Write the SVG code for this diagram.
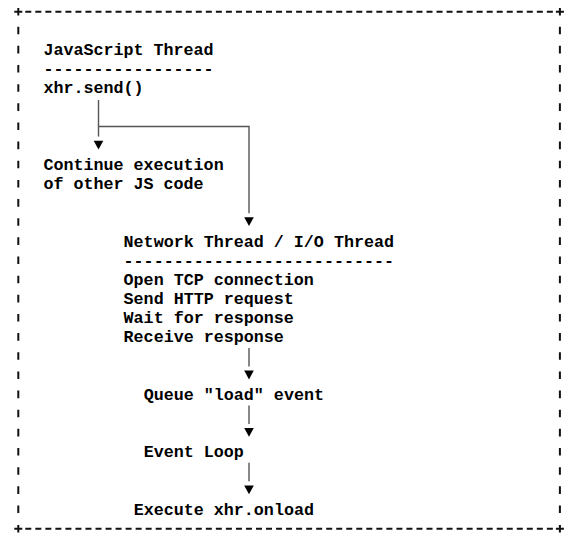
<svg xmlns="http://www.w3.org/2000/svg" xmlns:xlink="http://www.w3.org/1999/xlink" width="579" height="540" viewBox="0 0 579 540">
  <style>
    .t { font-family: "Liberation Mono", "Courier New", monospace; font-size: 16.7px; font-weight: bold; fill: #000; }
    .frame { stroke: #111; stroke-width: 2; fill: none; }
    .conn { stroke: #555; stroke-width: 1.4; fill: none; }
    .arrow { fill: #000; }
  </style>
  <defs>
    <path id="tri" d="M-4.8 0 H4.8 L0 8.8 Z"/>
  </defs>
  <rect width="579" height="540" fill="#fff"/>

  <g id="frame" class="frame">
    <path d="M25.3 11.7 H553" stroke-dasharray="6 4.03"/>
    <path d="M25.3 528.75 H553" stroke-dasharray="6 4.03"/>
    <path d="M18.3 26.7 V513.1" stroke-dasharray="7.6 11.55"/>
    <path d="M559.9 26.7 V513.1" stroke-dasharray="7.6 11.55"/>
    <path d="M14.3 11.7 H22.3 M18.3 8 V15.4"/>
    <path d="M555.9 11.7 H563.9 M559.9 8 V15.4"/>
    <path d="M14.3 528.75 H22.3 M18.3 525 V532.4"/>
    <path d="M555.9 528.75 H563.9 M559.9 525 V532.4"/>
  </g>

  <g id="connectors">
    <path class="conn" d="M98.5 100 V136.6"/>
    <path class="conn" d="M98.5 126.5 H249 V213.2"/>
    <path class="conn" d="M249 347.9 V366.4"/>
    <path class="conn" d="M249 405.5 V424"/>
    <path class="conn" d="M249 462.8 V481.3"/>
    <use class="arrow" xlink:href="#tri" href="#tri" x="98.5" y="140.8"/>
    <use class="arrow" xlink:href="#tri" href="#tri" x="249" y="217.2"/>
    <use class="arrow" xlink:href="#tri" href="#tri" x="249" y="370.6"/>
    <use class="arrow" xlink:href="#tri" href="#tri" x="249" y="428"/>
    <use class="arrow" xlink:href="#tri" href="#tri" x="249" y="485.5"/>
  </g>

  <g id="js-thread">
    <text class="t" x="43.4" y="55">JavaScript Thread</text>
    <text class="t" x="43.4" y="74.15">-----------------</text>
    <text class="t" x="43.4" y="93.3">xhr.send()</text>
  </g>

  <g id="continue-execution">
    <text class="t" x="43.4" y="169.9">Continue execution</text>
    <text class="t" x="43.4" y="189.05">of other JS code</text>
  </g>

  <g id="network-thread">
    <text class="t" x="123.6" y="246.5">Network Thread / I/O Thread</text>
    <text class="t" x="123.6" y="265.65">---------------------------</text>
    <text class="t" x="123.6" y="284.8">Open TCP connection</text>
    <text class="t" x="123.6" y="303.95">Send HTTP request</text>
    <text class="t" x="123.6" y="323.1">Wait for response</text>
    <text class="t" x="123.6" y="342.25">Receive response</text>
  </g>

  <g id="queue-load">
    <text class="t" x="143.7" y="399.7">Queue "load" event</text>
  </g>

  <g id="event-loop">
    <text class="t" x="143.7" y="457.15">Event Loop</text>
  </g>

  <g id="execute-onload">
    <text class="t" x="133.7" y="514.6">Execute xhr.onload</text>
  </g>
</svg>
